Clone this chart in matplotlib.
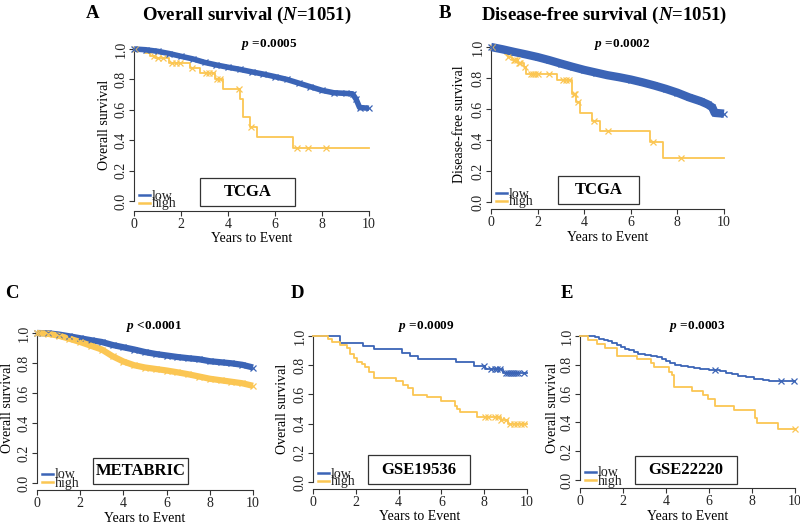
import numpy as np
import matplotlib
matplotlib.use("Agg")
import matplotlib.pyplot as plt
from matplotlib.lines import Line2D
from matplotlib.patches import Rectangle

plt.rcParams['font.family'] = ['Liberation Serif', 'DejaVu Serif']
plt.rcParams['mathtext.fontset'] = 'custom'
plt.rcParams['mathtext.rm'] = 'Liberation Serif'
plt.rcParams['mathtext.it'] = 'Liberation Serif:italic'
plt.rcParams['mathtext.bf'] = 'Liberation Serif:bold'
plt.rcParams['mathtext.bfit'] = 'Liberation Serif:italic:bold'

BLUE = '#3b64b6'
GOLD = '#fbc653'

# ---- A: TCGA overall survival ----
a_low_t = [0, 0.5, 1.0, 1.5, 2.0, 2.5, 3.0, 3.5, 4.0, 4.5, 5.0, 5.5, 6.0, 6.5, 7.0, 7.5,
           8.0, 8.5, 9.0, 9.3, 9.45, 9.6, 10]
a_low_s = [1.0, 0.995, 0.985, 0.97, 0.952, 0.935, 0.912, 0.895, 0.88, 0.866, 0.85, 0.835,
           0.818, 0.80, 0.776, 0.752, 0.728, 0.712, 0.708, 0.705, 0.67, 0.615, 0.61]
a_high_t = [0, 0.47, 0.68, 0.9, 1.48, 2.38, 2.81, 3.45, 3.8, 4.5, 4.62, 4.94, 5.22, 6.78, 10]
a_high_s = [1.0, 0.975, 0.955, 0.94, 0.91, 0.877, 0.843, 0.80, 0.735, 0.67, 0.552, 0.49,
            0.42, 0.35, 0.35]
a_high_cens = [0.05, 0.85, 1.0, 1.25, 1.6, 1.8, 1.95, 2.45, 3.05, 3.2, 3.35, 3.55, 3.65,
               4.45, 4.98, 6.95, 7.4, 8.15]

# ---- B: TCGA disease-free survival ----
b_low_t = [0, 0.5, 1.0, 1.5, 2.0, 2.5, 3.0, 3.5, 4.0, 4.5, 5.0, 5.5, 6.0, 6.5, 7.0, 7.5,
           8.0, 8.5, 9.0, 9.3, 9.5, 9.6, 10]
b_low_s = [1.0, 0.985, 0.968, 0.952, 0.935, 0.915, 0.893, 0.872, 0.852, 0.835, 0.818, 0.805,
           0.79, 0.772, 0.752, 0.73, 0.705, 0.675, 0.65, 0.63, 0.61, 0.575, 0.57]
b_high_t = [0, 0.4, 0.6, 0.75, 0.9, 1.15, 1.4, 1.5, 2.83, 3.48, 3.65, 3.83, 4.33, 4.69,
            6.84, 7.38, 10]
b_high_s = [1.0, 0.98, 0.957, 0.936, 0.915, 0.90, 0.87, 0.823, 0.79, 0.70, 0.645, 0.576,
            0.525, 0.46, 0.385, 0.285, 0.285]
b_high_cens = [0.05, 0.75, 1.0, 1.05, 1.1, 1.2, 1.25, 1.45, 1.7, 1.8, 1.9, 2.0, 2.5, 3.1,
               3.2, 3.35, 3.55, 3.6, 3.75, 4.4, 5.0, 6.95, 8.15]

# ---- C: METABRIC ----
c_t = [0, 0.5, 1.0, 1.5, 2.0, 2.5, 3.0, 3.5, 4.0, 4.5, 5.0, 5.5, 6.0, 6.5, 7.0, 7.5, 8.0,
       8.5, 9.0, 9.5, 10]
c_low_s = [1.0, 0.998, 0.99, 0.978, 0.965, 0.952, 0.94, 0.92, 0.905, 0.89, 0.873, 0.86,
           0.85, 0.84, 0.832, 0.825, 0.812, 0.805, 0.798, 0.788, 0.77]
c_high_s = [1.0, 0.995, 0.982, 0.962, 0.94, 0.915, 0.89, 0.845, 0.81, 0.785, 0.77, 0.76,
            0.75, 0.738, 0.725, 0.71, 0.695, 0.685, 0.675, 0.665, 0.648]

# ---- D: GSE19536 ----
d_low_t = [0, 1.28, 2.34, 2.86, 4.15, 4.55, 4.9, 6.7, 7.5, 8.05, 8.9, 10]
d_low_s = [1.0, 0.955, 0.932, 0.91, 0.886, 0.864, 0.842, 0.82, 0.797, 0.775, 0.75, 0.75]
d_low_cens = [8.0, 8.3, 8.5, 8.6, 8.75, 9.0, 9.1, 9.2, 9.3, 9.4, 9.5, 9.6, 9.85]
d_high_t = [0, 0.7, 0.9, 1.28, 1.6, 1.75, 1.9, 2.05, 2.3, 2.45, 2.6, 2.85, 3.9, 4.2, 4.45,
            4.65, 5.35, 6.0, 6.65, 6.75, 6.85, 7.65, 8.8, 9.1, 10]
d_high_s = [1.0, 0.98, 0.96, 0.94, 0.915, 0.88, 0.85, 0.825, 0.805, 0.785, 0.755, 0.715,
            0.69, 0.665, 0.645, 0.598, 0.58, 0.558, 0.52, 0.50, 0.48, 0.447, 0.425, 0.395,
            0.395]
d_high_cens = [8.05, 8.2, 8.5, 8.65, 8.8, 9.0, 9.2, 9.4, 9.55, 9.7, 9.85]

# ---- E: GSE22220 ----
e_low_t = [0, 0.7, 0.9, 1.1, 1.3, 1.5, 1.7, 1.9, 2.1, 2.3, 2.5, 2.7, 3.0, 3.3, 3.6, 3.8,
           4.0, 4.2, 4.4, 4.7, 5.0, 5.3, 5.6, 6.0, 6.5, 6.8, 7.05, 7.35, 7.7, 8.1, 8.5,
           8.8, 10]
e_low_s = [1.0, 0.99, 0.982, 0.972, 0.962, 0.948, 0.935, 0.922, 0.912, 0.902, 0.89, 0.875,
           0.868, 0.862, 0.852, 0.84, 0.828, 0.815, 0.80, 0.792, 0.785, 0.778, 0.77, 0.764,
           0.756, 0.745, 0.735, 0.722, 0.712, 0.70, 0.693, 0.685, 0.685]
e_low_cens = [6.3, 9.35, 9.95]
e_high_t = [0, 0.36, 0.77, 1.16, 1.7, 2.63, 3.3, 3.46, 4.14, 4.26, 4.39, 5.2, 5.74, 5.95,
            6.3, 7.16, 8.13, 8.25, 9.2, 10]
e_high_s = [1.0, 0.972, 0.944, 0.919, 0.861, 0.838, 0.815, 0.782, 0.752, 0.729, 0.648,
            0.62, 0.59, 0.565, 0.515, 0.485, 0.43, 0.395, 0.352, 0.352]
e_high_cens = [9.98]

W, H = 800, 524
fig = plt.figure(figsize=(W / 100, H / 100), dpi=100)


def fx(px):
    return px / W


def fy(py):
    return 1 - py / H


def km_axes(L, R, y1, y0, spine):
    # pixel layout of one R-style survival panel
    unit = y0 - y1
    top = y1 - 8
    ax = fig.add_axes([fx(L), fy(spine), (R - L) / W, (spine - top) / H])
    ax.set_xlim(0, 10)
    ax.set_ylim(-(spine - y0) / unit, 1 + (y1 - top) / unit)
    for s in ['top', 'right']:
        ax.spines[s].set_visible(False)
    ax.spines['left'].set_bounds(0, 1)
    ax.spines['bottom'].set_bounds(0, 10)
    for s in ['left', 'bottom']:
        ax.spines[s].set_linewidth(0.8)
        ax.spines[s].set_color('#333333')
    ax.set_xticks([0, 2, 4, 6, 8, 10])
    ax.set_yticks([0, 0.2, 0.4, 0.6, 0.8, 1.0])
    ax.set_yticklabels(['0.0', '0.2', '0.4', '0.6', '0.8', '1.0'], rotation=90, va='center')
    ax.tick_params(length=3.5, width=0.8, labelsize=10, pad=1.2, color='#333333',
                   labelcolor='#222222')
    ax.patch.set_alpha(0)
    return ax


def step_curve(ax, t, s, color, lw=1.3, cens=None):
    ax.step(t, s, where='post', color=color, lw=lw, clip_on=False, zorder=3)
    if cens is not None:
        idx = np.searchsorted(t, cens, side='right') - 1
        ax.plot(cens, np.asarray(s)[idx], 'x', color=color, ms=4.5, mew=0.9,
                clip_on=False, zorder=4)


def dense_curve(ax, t, s, color, lw):
    # many events and censorings: the curve reads as a thick textured band
    ax.plot(t, s, color=color, lw=lw, clip_on=False, zorder=3, solid_capstyle='butt')
    ax.plot(t, s, 'x', color=color, ms=5, mew=0.9, clip_on=False, zorder=4)


def decorate(L, R, y1, y0, spine, ylab, ylab_x, ptext, p_x, p_y, box, letter,
             title=None, title_x=None):
    yc = (y0 + y1) / 2
    fig.text(fx(ylab_x), fy(yc), ylab, rotation=90, ha='center', va='center', fontsize=10)
    fig.text(fx((L + R) / 2), fy(spine + 28), 'Years to Event', ha='center', va='center',
             fontsize=10)
    fig.text(fx(p_x), fy(p_y), r'$\mathbfit{p}$ ' + ptext, ha='center', va='center',
             fontsize=9.5, fontweight='bold')
    bx0, bx1, by0, by1, name = box
    fig.add_artist(Rectangle((fx(bx0), fy(by1)), (bx1 - bx0) / W, (by1 - by0) / H,
                             transform=fig.transFigure, facecolor='white',
                             edgecolor='#333333', lw=0.9, zorder=5))
    fig.text(fx((bx0 + bx1) / 2), fy((by0 + by1) / 2), name, ha='center', va='center',
             fontsize=12, fontweight='bold', zorder=6)
    # legend
    for dy, col, lab in [(16, BLUE, 'low'), (8, GOLD, 'high')]:
        fig.add_artist(Line2D([fx(L + 5), fx(L + 16)], [fy(spine - dy), fy(spine - dy)],
                              color=col, lw=1.8, transform=fig.transFigure))
        fig.text(fx(L + 18), fy(spine - dy + 1), lab, ha='left', va='center', fontsize=10,
                 color='#222222')
    fig.text(fx(letter[1]), fy(letter[2]), letter[0], ha='center', va='center',
             fontsize=13.5, fontweight='bold')
    if title:
        fig.text(fx(title_x), fy(15), title, ha='center', va='center', fontsize=13.5,
                 fontweight='bold')


# Panel A
ax = km_axes(134, 369, 49, 201, 211)
step_curve(ax, a_high_t, a_high_s, GOLD, cens=a_high_cens)
dense_curve(ax, a_low_t, a_low_s, BLUE, 4.0)
decorate(134, 369, 49, 201, 211, 'Overall survival', 104, '=0.0005', 269, 45,
         (200, 295, 178, 206, 'TCGA'), ('A', 93, 14),
         r'Overall survival ($\mathbfit{N}$=1051)', 247)

# Panel B
ax = km_axes(491, 724, 47, 202, 209)
step_curve(ax, b_high_t, b_high_s, GOLD, cens=b_high_cens)
dense_curve(ax, b_low_t, b_low_s, BLUE, 6.0)
decorate(491, 724, 47, 202, 209, 'Disease-free survival', 460, '=0.0002', 622, 45,
         (558, 639, 176, 204, 'TCGA'), ('B', 445, 14),
         r'Disease-free survival ($\mathbfit{N}$=1051)', 604)

# Panel C
ax = km_axes(37, 253, 333, 483, 490)
dense_curve(ax, c_t, c_low_s, BLUE, 4.5)
dense_curve(ax, c_t, c_high_s, GOLD, 4.5)
decorate(37, 253, 333, 483, 490, 'Overall survival', 8, '<0.0001', 154, 327,
         (93, 188, 458, 484, 'METABRIC'), ('C', 12, 293))

# Panel D
ax = km_axes(313, 527, 336, 482, 489)
step_curve(ax, d_low_t, d_low_s, BLUE, cens=d_low_cens)
step_curve(ax, d_high_t, d_high_s, GOLD, cens=d_high_cens)
decorate(313, 527, 336, 482, 489, 'Overall survival', 283, '=0.0009', 426, 327,
         (368, 470, 455, 484, 'GSE19536'), ('D', 297, 293))

# Panel E
ax = km_axes(580, 795, 336, 480, 488)
step_curve(ax, e_low_t, e_low_s, BLUE, cens=e_low_cens)
step_curve(ax, e_high_t, e_high_s, GOLD, cens=e_high_cens)
decorate(580, 795, 336, 480, 488, 'Overall survival', 553, '=0.0003', 697, 327,
         (635, 737, 456, 484, 'GSE22220'), ('E', 567, 293))

fig.savefig('out.png', dpi=100)
